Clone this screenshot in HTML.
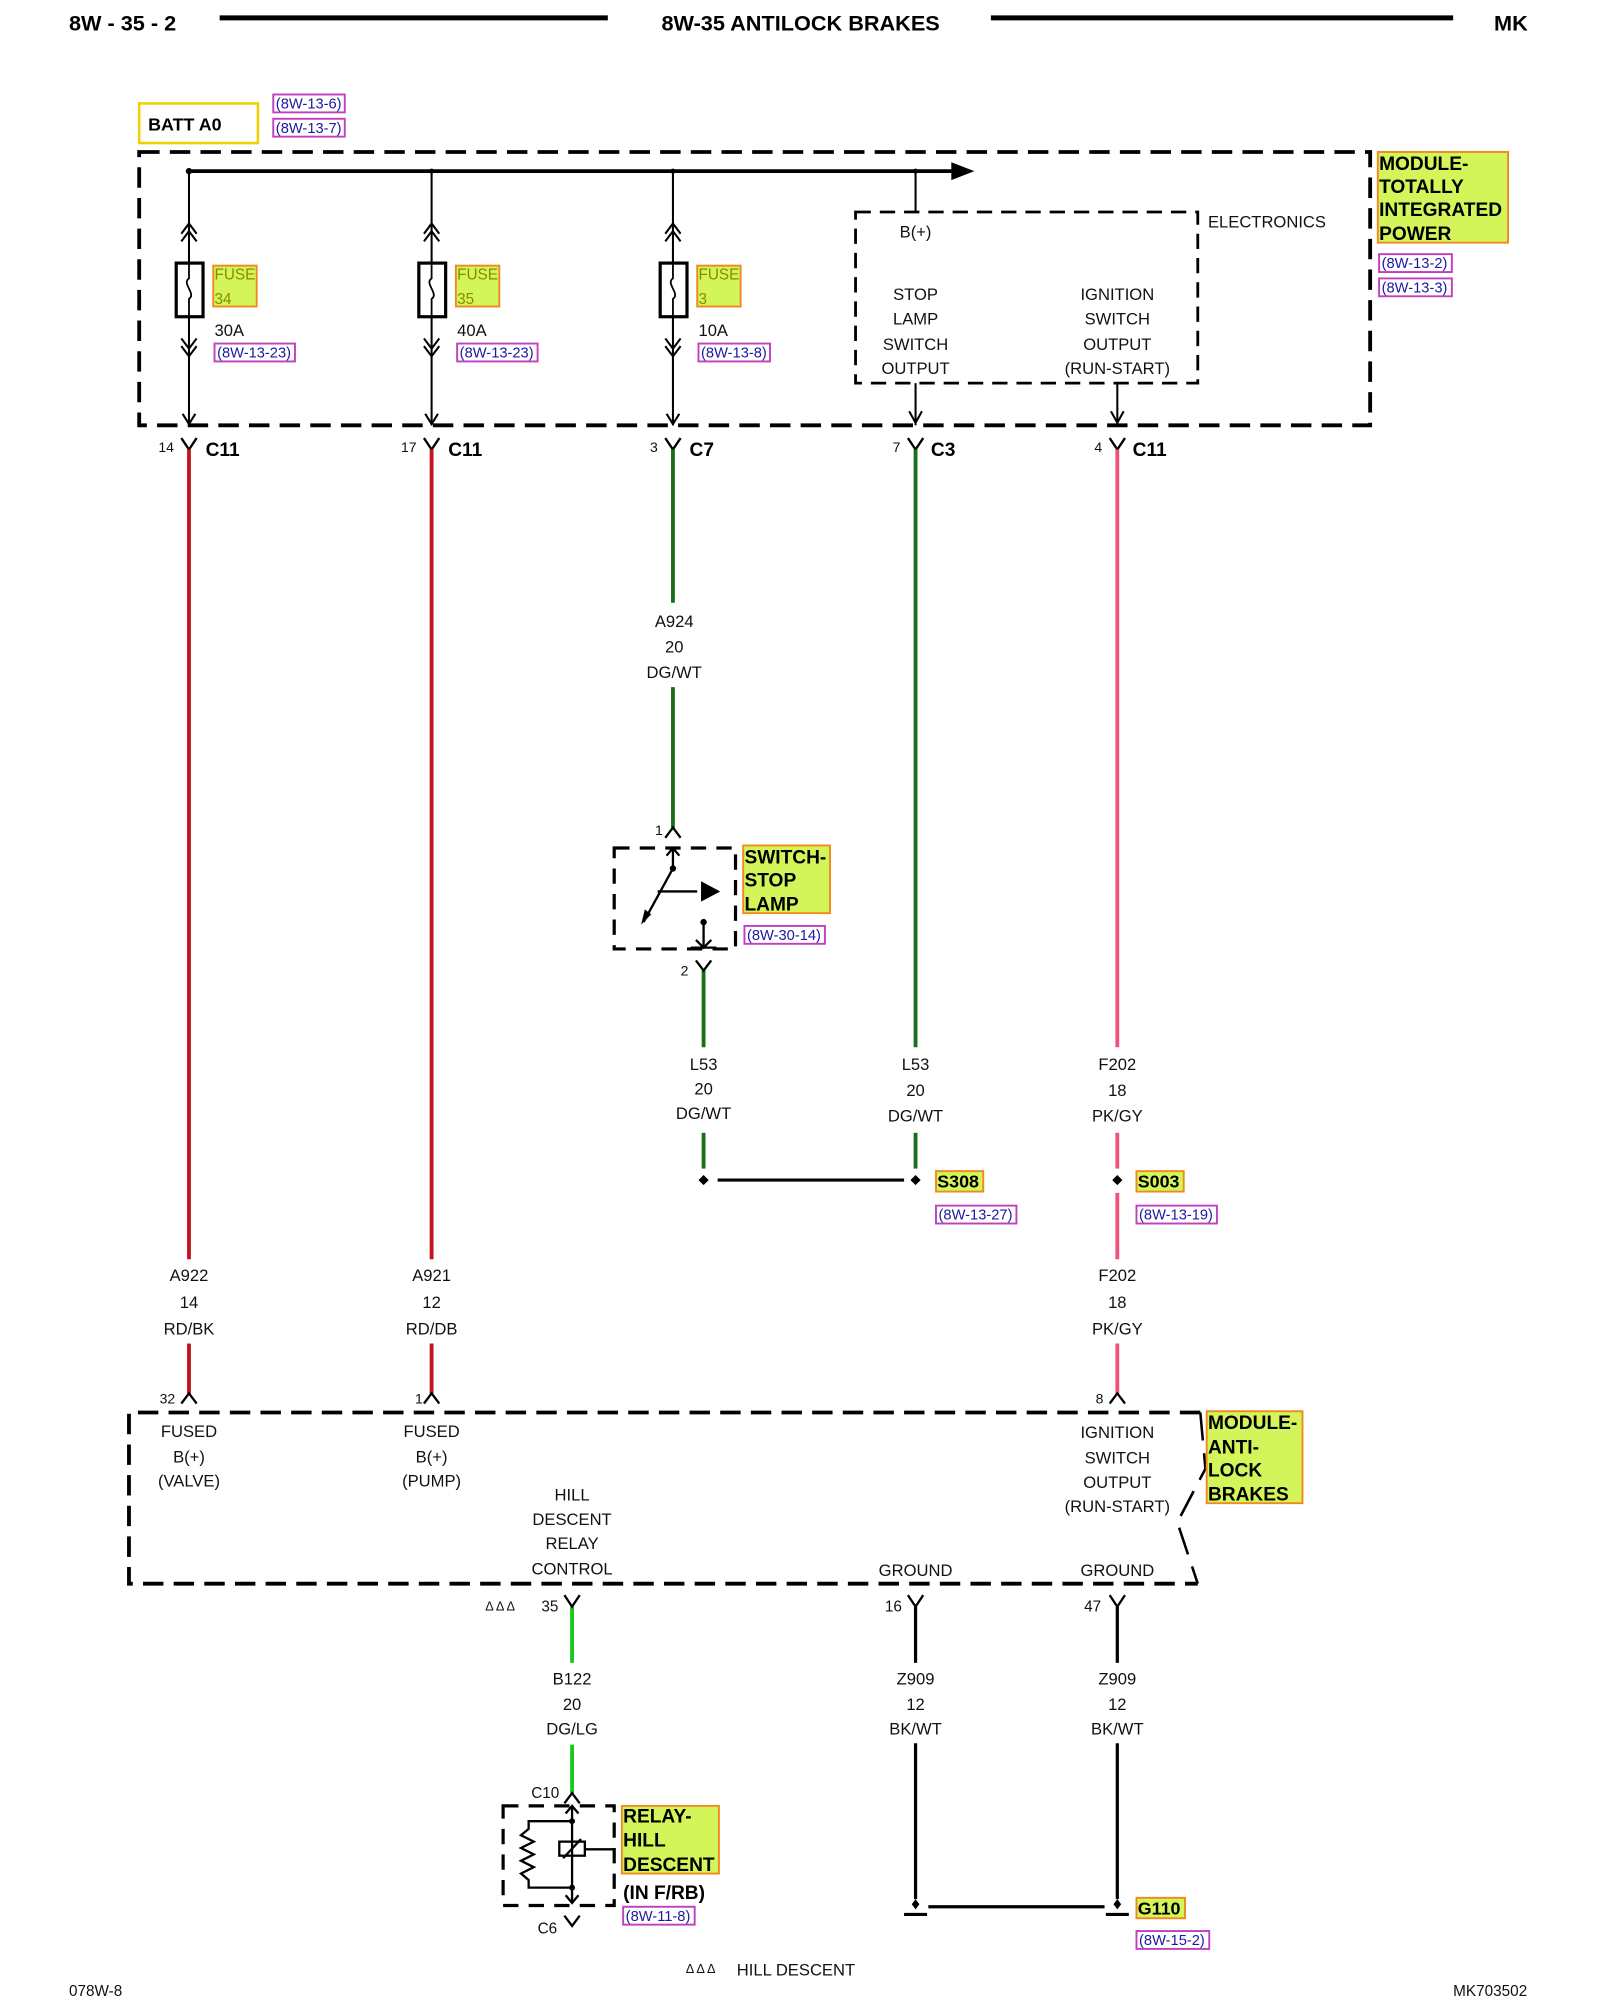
<!DOCTYPE html>
<html><head><meta charset="utf-8"><style>
html,body{margin:0;padding:0;background:#fff;}
svg{display:block;}
text{font-family:"Liberation Sans",sans-serif;}
.s{font-size:13px;fill:#111;}
.b{font-size:16px;font-weight:bold;fill:#000;}
.lb{font-size:15px;font-weight:bold;fill:#000;}
.r{font-size:11.5px;fill:#1a1aa0;}
.fz{font-size:12px;fill:#8a8a00;}
</style></head><body>
<svg width="1600" height="2000" viewBox="0 0 1253 1566" preserveAspectRatio="none" xmlns="http://www.w3.org/2000/svg">
<g stroke-linecap="butt">
<!-- header -->
<text x="54" y="24" class="b" style="font-size:17px">8W - 35 - 2</text>
<line x1="172" y1="14" x2="476" y2="14" stroke="#000" stroke-width="4"/>
<text x="627" y="24" class="b" text-anchor="middle" style="font-size:17px">8W-35 ANTILOCK BRAKES</text>
<line x1="776" y1="14" x2="1138" y2="14" stroke="#000" stroke-width="4"/>
<text x="1170" y="24" class="b" style="font-size:17px">MK</text>

<!-- BATT A0 -->
<rect x="109" y="81" width="93" height="31" fill="#fff" stroke="#f0d000" stroke-width="2"/>
<text x="116" y="102" class="lb" style="font-size:14px">BATT A0</text>
<rect x="214" y="74" width="56" height="14" fill="none" stroke="#c040c0" stroke-width="1.5"/>
<text x="216" y="85" class="r">(8W-13-6)</text>
<rect x="214" y="93" width="56" height="14" fill="none" stroke="#c040c0" stroke-width="1.5"/>
<text x="216" y="104" class="r">(8W-13-7)</text>

<!-- TIPM box -->
<rect x="109" y="119" width="964" height="214" fill="none" stroke="#000" stroke-width="3" stroke-dasharray="16,8"/>
<line x1="148" y1="134" x2="748" y2="134" stroke="#000" stroke-width="3"/>
<polygon points="745,127 763,134 745,141" fill="#000"/>
<circle cx="148" cy="134" r="2.5"/><circle cx="338" cy="134" r="2"/><circle cx="527" cy="134" r="2"/><circle cx="717" cy="134" r="2"/>
<g stroke="#000" stroke-width="1.6" fill="none">
<line x1="148" y1="134" x2="148" y2="333"/>
<line x1="338" y1="134" x2="338" y2="333"/>
<line x1="527" y1="134" x2="527" y2="333"/>
<line x1="717" y1="134" x2="717" y2="166"/>
<line x1="717" y1="300" x2="717" y2="333"/>
<line x1="875" y1="300" x2="875" y2="333"/>
<polyline points="712,322 717,331 722,322"/>
<polyline points="870,322 875,331 880,322"/>
<polyline points="143,324 148,332 153,324"/>
<polyline points="333,324 338,332 343,324"/>
<polyline points="522,324 527,332 532,324"/>
</g>
<!-- fuses -->
<g id="fuse">
<g stroke="#000" stroke-width="1.6" fill="none">
<polyline points="142,183 148,175 154,183"/><polyline points="142,189 148,181 154,189"/>
<polyline points="142,265 148,273 154,265"/><polyline points="142,271 148,279 154,271"/>
</g>
<rect x="138" y="206" width="21" height="42" fill="#fff" stroke="#000" stroke-width="2.5"/>
<path d="M148,206 L148,218 C142,222 154,230 148,234 L148,248" stroke="#000" stroke-width="1.4" fill="none"/>
</g>
<use href="#fuse" x="190"/><use href="#fuse" x="379"/>
<rect x="167" y="208" width="34" height="32" fill="#d4f55a" stroke="#f08a20" stroke-width="1.5"/>
<text x="168" y="219" class="fz">FUSE</text><text x="168" y="238" class="fz">34</text>
<rect x="357" y="208" width="34" height="32" fill="#d4f55a" stroke="#f08a20" stroke-width="1.5"/>
<text x="358" y="219" class="fz">FUSE</text><text x="358" y="238" class="fz">35</text>
<rect x="546" y="208" width="34" height="32" fill="#d4f55a" stroke="#f08a20" stroke-width="1.5"/>
<text x="547" y="219" class="fz">FUSE</text><text x="547" y="238" class="fz">3</text>
<text x="168" y="263" class="s">30A</text><text x="358" y="263" class="s">40A</text><text x="547" y="263" class="s">10A</text>
<rect x="168" y="269" width="63" height="14" fill="none" stroke="#c040c0" stroke-width="1.5"/><text x="170" y="280" class="r">(8W-13-23)</text>
<rect x="358" y="269" width="63" height="14" fill="none" stroke="#c040c0" stroke-width="1.5"/><text x="360" y="280" class="r">(8W-13-23)</text>
<rect x="547" y="269" width="56" height="14" fill="none" stroke="#c040c0" stroke-width="1.5"/><text x="549" y="280" class="r">(8W-13-8)</text>

<!-- electronics -->
<rect x="670" y="166" width="268" height="134" fill="none" stroke="#000" stroke-width="2.2" stroke-dasharray="12,7"/>
<text x="946" y="178" class="s">ELECTRONICS</text>
<text x="717" y="186" class="s" text-anchor="middle">B(+)</text>
<g class="s" text-anchor="middle">
<text x="717" y="235">STOP</text><text x="717" y="254">LAMP</text><text x="717" y="274">SWITCH</text><text x="717" y="293">OUTPUT</text>
<text x="875" y="235">IGNITION</text><text x="875" y="254">SWITCH</text><text x="875" y="274">OUTPUT</text><text x="875" y="293">(RUN-START)</text>
</g>
<rect x="1079" y="119" width="102" height="71" fill="#d4f55a" stroke="#f08a20" stroke-width="1.5"/>
<g class="lb"><text x="1080" y="133">MODULE-</text><text x="1080" y="151">TOTALLY</text><text x="1080" y="169">INTEGRATED</text><text x="1080" y="188">POWER</text></g>
<rect x="1080" y="199" width="57" height="14" fill="none" stroke="#c040c0" stroke-width="1.5"/><text x="1082" y="210" class="r">(8W-13-2)</text>
<rect x="1080" y="218" width="57" height="14" fill="none" stroke="#c040c0" stroke-width="1.5"/><text x="1082" y="229" class="r">(8W-13-3)</text>

<!-- connectors top -->
<g stroke="#000" stroke-width="1.8" fill="none">
<polyline points="142,343 148,352 154,343"/><polyline points="332,343 338,352 344,343"/>
<polyline points="521,343 527,352 533,343"/><polyline points="711,343 717,352 723,343"/>
<polyline points="869,343 875,352 881,343"/>
</g>
<g class="s" style="font-size:11px"><text x="124" y="354">14</text><text x="314" y="354">17</text><text x="509" y="354">3</text><text x="699" y="354">7</text><text x="857" y="354">4</text></g>
<g class="lb"><text x="161" y="357">C11</text><text x="351" y="357">C11</text><text x="540" y="357">C7</text><text x="729" y="357">C3</text><text x="887" y="357">C11</text></g>

<!-- wires -->
<g stroke-width="3" fill="none">
<line x1="148" y1="352" x2="148" y2="986" stroke="#c0141e"/>
<line x1="338" y1="352" x2="338" y2="986" stroke="#c0141e"/>
<line x1="527" y1="352" x2="527" y2="472" stroke="#1a6e1a"/>
<line x1="527" y1="538" x2="527" y2="648" stroke="#1a6e1a"/>
<line x1="717" y1="352" x2="717" y2="820" stroke="#1a6e1a"/>
<line x1="717" y1="887" x2="717" y2="915" stroke="#1a6e1a"/>
<line x1="875" y1="352" x2="875" y2="820" stroke="#f0507a"/>
<line x1="875" y1="887" x2="875" y2="915" stroke="#f0507a"/>
<line x1="875" y1="934" x2="875" y2="986" stroke="#f0507a"/>
<line x1="551" y1="760" x2="551" y2="820" stroke="#1a6e1a"/>
<line x1="551" y1="887" x2="551" y2="915" stroke="#1a6e1a"/>
<line x1="148" y1="1052" x2="148" y2="1092" stroke="#c0141e"/>
<line x1="338" y1="1052" x2="338" y2="1092" stroke="#c0141e"/>
<line x1="875" y1="1052" x2="875" y2="1092" stroke="#f0507a"/>
<line x1="448" y1="1258" x2="448" y2="1302" stroke="#19c819"/>
<line x1="448" y1="1366" x2="448" y2="1404" stroke="#19c819"/>
</g>
<g class="s" text-anchor="middle">
<text x="528" y="491">A924</text><text x="528" y="511">20</text><text x="528" y="531">DG/WT</text>
<text x="551" y="838">L53</text><text x="551" y="857">20</text><text x="551" y="876">DG/WT</text>
<text x="717" y="838">L53</text><text x="717" y="858">20</text><text x="717" y="878">DG/WT</text>
<text x="875" y="838">F202</text><text x="875" y="858">18</text><text x="875" y="878">PK/GY</text>
<text x="148" y="1003">A922</text><text x="148" y="1024">14</text><text x="148" y="1045">RD/BK</text>
<text x="338" y="1003">A921</text><text x="338" y="1024">12</text><text x="338" y="1045">RD/DB</text>
<text x="875" y="1003">F202</text><text x="875" y="1024">18</text><text x="875" y="1045">PK/GY</text>
</g>

<!-- stop lamp switch -->
<g stroke="#000" stroke-width="1.8" fill="none">
<polyline points="521,656 527,648 533,656"/>
<polyline points="545,752 551,760 557,752"/>
<line x1="527" y1="664" x2="527" y2="680"/>
<polyline points="522,670 527,664 532,670"/>
<line x1="527" y1="680" x2="504" y2="722"/>
<line x1="515" y1="698" x2="546" y2="698"/>
<line x1="551" y1="722" x2="551" y2="742"/>
<polyline points="545,736 551,742 557,736"/>
<line x1="541" y1="742" x2="561" y2="742"/>
</g>
<rect x="481" y="664" width="95" height="79" fill="none" stroke="#000" stroke-width="2.5" stroke-dasharray="12,8"/>
<circle cx="527" cy="680" r="2.5"/><circle cx="551" cy="722" r="2.5"/>
<polygon points="502,724 505,712 510,716" fill="#000"/>
<polygon points="549,690 564,698 549,706" fill="#000"/>
<text x="513" y="654" class="s" style="font-size:11px">1</text>
<text x="533" y="764" class="s" style="font-size:11px">2</text>
<rect x="582" y="662" width="68" height="53" fill="#d4f55a" stroke="#f08a20" stroke-width="1.5"/>
<g class="lb"><text x="583" y="676">SWITCH-</text><text x="583" y="694">STOP</text><text x="583" y="713">LAMP</text></g>
<rect x="583" y="725" width="63" height="14" fill="none" stroke="#c040c0" stroke-width="1.5"/><text x="585" y="736" class="r">(8W-30-14)</text>

<!-- splices -->
<line x1="562" y1="924" x2="708" y2="924" stroke="#000" stroke-width="2.5"/>
<polygon points="551,920 555,924 551,928 547,924" fill="#000"/>
<polygon points="717,920 721,924 717,928 713,924" fill="#000"/>
<polygon points="875,920 879,924 875,928 871,924" fill="#000"/>
<rect x="733" y="917" width="37" height="16" fill="#d4f55a" stroke="#f08a20" stroke-width="1.5"/><text x="734" y="930" class="lb" style="font-size:14px">S308</text>
<rect x="890" y="917" width="37" height="16" fill="#d4f55a" stroke="#f08a20" stroke-width="1.5"/><text x="891" y="930" class="lb" style="font-size:14px">S003</text>
<rect x="733" y="944" width="63" height="14" fill="none" stroke="#c040c0" stroke-width="1.5"/><text x="735" y="955" class="r">(8W-13-27)</text>
<rect x="890" y="944" width="63" height="14" fill="none" stroke="#c040c0" stroke-width="1.5"/><text x="892" y="955" class="r">(8W-13-19)</text>

<!-- ABS pins top -->
<g stroke="#000" stroke-width="1.8" fill="none">
<polyline points="142,1099 148,1091 154,1099"/><polyline points="332,1099 338,1091 344,1099"/>
<polyline points="869,1099 875,1091 881,1099"/>
</g>
<g class="s" style="font-size:11px"><text x="125" y="1099">32</text><text x="325" y="1099">1</text><text x="858" y="1099">8</text></g>

<!-- ABS box -->
<polyline points="940,1106 101,1106 101,1240 938,1240" fill="none" stroke="#000" stroke-width="3" stroke-dasharray="16,8"/>
<polyline points="940,1106 944,1150 922,1192 938,1240" fill="none" stroke="#000" stroke-width="2" stroke-dasharray="22,10"/>
<g class="s" text-anchor="middle">
<text x="148" y="1125">FUSED</text><text x="148" y="1145">B(+)</text><text x="148" y="1164">(VALVE)</text>
<text x="338" y="1125">FUSED</text><text x="338" y="1145">B(+)</text><text x="338" y="1164">(PUMP)</text>
<text x="448" y="1175">HILL</text><text x="448" y="1194">DESCENT</text><text x="448" y="1213">RELAY</text><text x="448" y="1233">CONTROL</text>
<text x="875" y="1126">IGNITION</text><text x="875" y="1146">SWITCH</text><text x="875" y="1165">OUTPUT</text><text x="875" y="1184">(RUN-START)</text>
<text x="717" y="1234">GROUND</text><text x="875" y="1234">GROUND</text>
</g>
<rect x="945" y="1105" width="75" height="72" fill="#d4f55a" stroke="#f08a20" stroke-width="1.5"/>
<g class="lb"><text x="946" y="1119">MODULE-</text><text x="946" y="1138">ANTI-</text><text x="946" y="1156">LOCK</text><text x="946" y="1175">BRAKES</text></g>

<!-- bottom pins -->
<g stroke="#000" stroke-width="1.8" fill="none">
<polyline points="442,1249 448,1258 454,1249"/>
<polyline points="711,1249 717,1258 723,1249"/>
<polyline points="869,1249 875,1258 881,1249"/>
</g>
<text x="380" y="1261" class="s" style="font-size:10px">&#916; &#916; &#916;</text>
<g class="s" style="font-size:12px"><text x="424" y="1262">35</text><text x="693" y="1262">16</text><text x="849" y="1262">47</text></g>
<g stroke="#000" stroke-width="2.5">
<line x1="717" y1="1258" x2="717" y2="1302"/><line x1="875" y1="1258" x2="875" y2="1302"/>
<line x1="717" y1="1365" x2="717" y2="1487"/><line x1="875" y1="1365" x2="875" y2="1487"/>
<line x1="727" y1="1493" x2="865" y2="1493"/>
<line x1="708" y1="1499" x2="726" y2="1499"/><line x1="866" y1="1499" x2="884" y2="1499"/>
</g>
<polygon points="717,1487 720,1491 717,1495 714,1491" fill="#000"/>
<polygon points="875,1487 878,1491 875,1495 872,1491" fill="#000"/>
<g class="s" text-anchor="middle">
<text x="448" y="1319">B122</text><text x="448" y="1339">20</text><text x="448" y="1358">DG/LG</text>
<text x="717" y="1319">Z909</text><text x="717" y="1339">12</text><text x="717" y="1358">BK/WT</text>
<text x="875" y="1319">Z909</text><text x="875" y="1339">12</text><text x="875" y="1358">BK/WT</text>
</g>
<rect x="890" y="1486" width="38" height="16" fill="#d4f55a" stroke="#f08a20" stroke-width="1.5"/><text x="891" y="1499" class="lb" style="font-size:14px">G110</text>
<rect x="890" y="1512" width="57" height="14" fill="none" stroke="#c040c0" stroke-width="1.5"/><text x="892" y="1523" class="r">(8W-15-2)</text>

<!-- relay -->
<g stroke="#000" stroke-width="1.8" fill="none">
<polyline points="442,1412 448,1404 454,1412"/>
<line x1="448" y1="1414" x2="448" y2="1490"/>
<polyline points="443,1420 448,1414 453,1420"/>
<polyline points="443,1484 448,1490 453,1484"/>
<polyline points="442,1500 448,1508 454,1500"/>
<polyline points="448,1426 414,1426 414,1432 408,1437 418,1442 408,1447 418,1452 408,1457 418,1462 408,1467 414,1472 414,1478 448,1478"/>
<rect x="438" y="1442" width="20" height="11"/>
<line x1="441" y1="1455" x2="455" y2="1440"/>
<line x1="458" y1="1448" x2="480" y2="1448"/>
</g>
<circle cx="448" cy="1426" r="2.3"/><circle cx="448" cy="1478" r="2.3"/>
<rect x="394" y="1414" width="87" height="78" fill="none" stroke="#000" stroke-width="2.5" stroke-dasharray="12,8"/>
<text x="416" y="1408" class="s" style="font-size:12px">C10</text>
<text x="421" y="1514" class="s" style="font-size:12px">C6</text>
<rect x="487" y="1414" width="76" height="53" fill="#d4f55a" stroke="#f08a20" stroke-width="1.5"/>
<g class="lb"><text x="488" y="1427">RELAY-</text><text x="488" y="1446">HILL</text><text x="488" y="1465">DESCENT</text></g>
<text x="488" y="1487" class="lb">(IN F/RB)</text>
<rect x="488" y="1493" width="56" height="14" fill="none" stroke="#c040c0" stroke-width="1.5"/><text x="490" y="1504" class="r">(8W-11-8)</text>

<!-- footer -->
<text x="537" y="1545" class="s" style="font-size:10px">&#916; &#916; &#916;</text>
<text x="577" y="1547" class="s">HILL DESCENT</text>
<text x="54" y="1563" class="s" style="font-size:12px">078W-8</text>
<text x="1138" y="1563" class="s" style="font-size:12px">MK703502</text>
</g>
</svg>
</body></html>
